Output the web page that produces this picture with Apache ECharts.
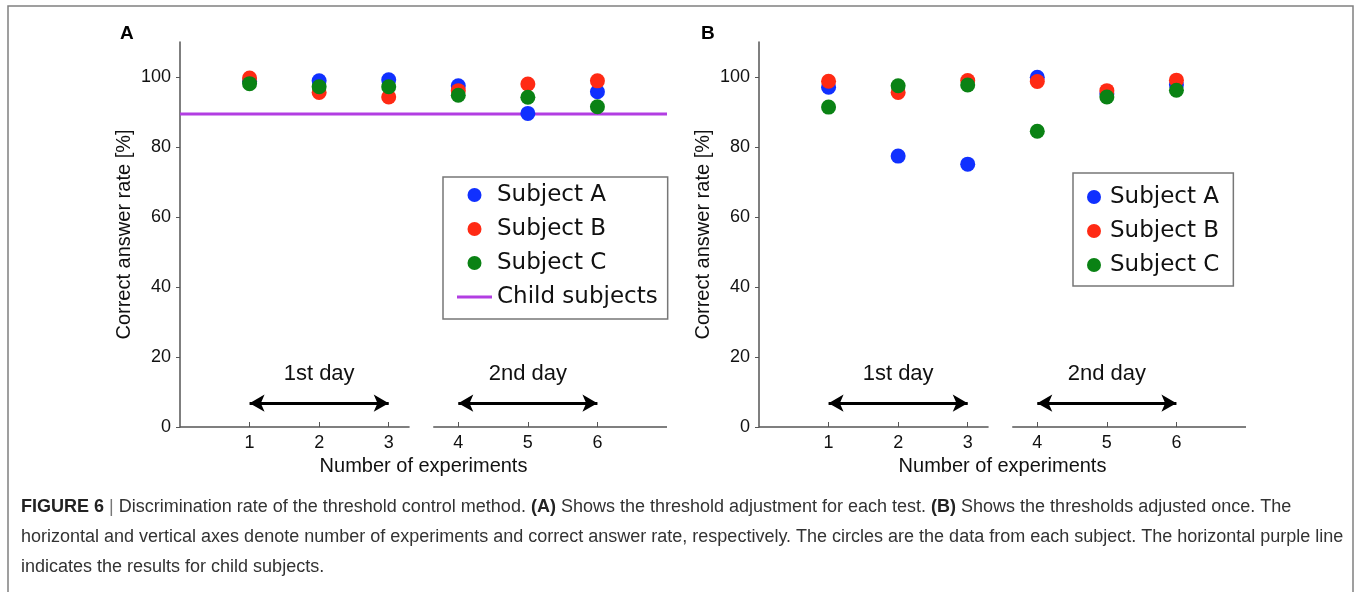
<!DOCTYPE html>
<html>
<head>
<meta charset="utf-8">
<script src="https://cdn.jsdelivr.net/npm/echarts@6/dist/echarts.min.js"></script>
<style>
  html, body { margin: 0; padding: 0; background: #fff; }
  #chart { width: 1357px; height: 592px; }
</style>
</head>
<body>
<div id="chart"></div>
<script>
// experiment number on x, correct answer rate [%] on y
var experiments = [1, 2, 3, 4, 5, 6];

// panel A: threshold adjusted for each test
var rateA_subjA = [98.8, 98.9, 99.2, 97.5, 89.6, 95.8];
var rateA_subjB = [99.7, 95.6, 94.3, 96.1, 98.0, 98.9];
var rateA_subjC = [98.1, 97.2, 97.2, 94.8, 94.2, 91.5];
var childRate = 89.4;

// panel B: thresholds adjusted once
var rateB_subjA = [97.1, 77.4, 75.1, 99.9, 95.2, 97.8];
var rateB_subjB = [98.8, 95.6, 99.0, 98.7, 96.1, 99.1];
var rateB_subjC = [91.4, 97.5, 97.7, 84.5, 94.3, 96.2];

var yTicks = [0, 20, 40, 60, 80, 100];
var xTicks = [1, 2, 3, 4, 5, 6];
var dayNames = ['1st day', '2nd day'];
var dayRanges = [[1, 3], [4, 6]];
var arrowLevel = 6.8;
var axisBreak = [3.3, 3.64];

var colA = '#1030ff', colB = '#ff2a14', colC = '#0a8214', colChild = '#b23ee2';
var axisCol = '#555';
var font = 'Liberation Sans, Arial, Helvetica, sans-serif';

function pairs(xs, ys) {
  var out = [];
  for (var i = 0; i < xs.length; i++) out.push([xs[i], ys[i]]);
  return out;
}

function xAxisFor(gi) {
  return {
    gridIndex: gi, type: 'value', min: 0, max: 7,
    name: 'Number of experiments', nameLocation: 'middle', nameGap: 27,
    nameTextStyle: { fontFamily: font, fontSize: 20, color: '#111' },
    axisLine: { show: false },
    axisTick: { show: true, inside: true, length: 5, customValues: xTicks, lineStyle: { color: axisCol } },
    axisLabel: { customValues: xTicks, fontFamily: font, fontSize: 18, color: '#111', margin: 7 },
    splitLine: { show: false }
  };
}

function yAxisFor(gi) {
  return {
    gridIndex: gi, type: 'value', min: 0, max: 110,
    name: 'Correct answer rate [%]', nameLocation: 'middle', nameGap: 46,
    nameTextStyle: { fontFamily: font, fontSize: 20, color: '#111' },
    axisLine: { show: true, lineStyle: { color: axisCol, width: 1.5 } },
    axisTick: { show: true, length: 4, customValues: yTicks, lineStyle: { color: axisCol } },
    axisLabel: { customValues: yTicks, fontFamily: font, fontSize: 18, color: '#111', margin: 9 },
    splitLine: { show: false }
  };
}

function scatter(name, gi, ys, color) {
  return {
    name: name, type: 'scatter', xAxisIndex: gi, yAxisIndex: gi,
    symbol: 'circle', symbolSize: 15,
    itemStyle: { color: color, opacity: 1 },
    data: pairs(experiments, ys)
  };
}

// broken x axis line and the two day arrows
function decor(gi) {
  var lines = [
    [{ coord: [0, 0], symbol: 'none' }, { coord: [axisBreak[0], 0], symbol: 'none' }],
    [{ coord: [axisBreak[1], 0], symbol: 'none' }, { coord: [7, 0], symbol: 'none' }]
  ];
  var arrows = [];
  for (var i = 0; i < dayRanges.length; i++) {
    arrows.push([
      { coord: [dayRanges[i][0], arrowLevel], name: dayNames[i] },
      { coord: [dayRanges[i][1], arrowLevel] }
    ]);
  }
  return {
    name: 'decor' + gi, type: 'line', xAxisIndex: gi, yAxisIndex: gi, data: [],
    silent: true,
    markLine: {
      silent: true, animation: false,
      symbol: ['arrow', 'arrow'], symbolSize: [13, 15],
      lineStyle: { color: '#000', width: 3, type: 'solid' },
      label: {
        show: true, position: 'insideMiddleTop', distance: 18,
        formatter: '{b}', fontFamily: font, fontSize: 22, color: '#111'
      },
      data: arrows.concat(lines.map(function (l) {
        return [
          Object.assign({}, l[0], { lineStyle: { color: axisCol, width: 1.5 }, label: { show: false } }),
          l[1]
        ];
      }))
    }
  };
}

var legendText = { fontFamily: 'DejaVu Sans, sans-serif', fontSize: 23, color: '#111', lineHeight: 24 };

var option = {
  animation: false,
  backgroundColor: '#fff',
  grid: [
    { left: 180, top: 42, width: 487, height: 385 },
    { left: 759, top: 42, width: 487, height: 385 }
  ],
  xAxis: [xAxisFor(0), xAxisFor(1)],
  yAxis: [yAxisFor(0), yAxisFor(1)],
  legend: [
    {
      orient: 'vertical', left: 443, top: 177,
      itemWidth: 35, itemHeight: 14, itemGap: 10,
      padding: [6, 10, 10, 14],
      borderColor: '#777', borderWidth: 1.5, backgroundColor: '#fff',
      selectedMode: false,
      textStyle: legendText,
      data: [
        { name: 'Subject A', icon: 'circle' },
        { name: 'Subject B', icon: 'circle' },
        { name: 'Subject C', icon: 'circle' },
        { name: 'Child subjects', icon: 'path://M0,0 L35,0 L35,3 L0,3 Z', itemStyle: { color: colChild } }
      ]
    },
    {
      orient: 'vertical', left: 1073, top: 173,
      itemWidth: 22, itemHeight: 14, itemGap: 10,
      padding: [12, 14, 9, 14],
      borderColor: '#777', borderWidth: 1.5, backgroundColor: '#fff',
      selectedMode: false,
      textStyle: legendText,
      data: [
        { name: 'Subject A', icon: 'circle' },
        { name: 'Subject B', icon: 'circle' },
        { name: 'Subject C', icon: 'circle' }
      ]
    }
  ],
  series: [
    decor(0),
    decor(1),
    {
      name: 'Child subjects', type: 'line', xAxisIndex: 0, yAxisIndex: 0,
      symbol: 'none', z: 1,
      lineStyle: { color: colChild, width: 3 },
      itemStyle: { color: colChild },
      data: [[0, childRate], [7, childRate]]
    },
    scatter('Subject A', 0, rateA_subjA, colA),
    scatter('Subject B', 0, rateA_subjB, colB),
    scatter('Subject C', 0, rateA_subjC, colC),
    scatter('Subject A', 1, rateB_subjA, colA),
    scatter('Subject B', 1, rateB_subjB, colB),
    scatter('Subject C', 1, rateB_subjC, colC)
  ],
  graphic: [
    {
      type: 'rect', silent: true, z: -10,
      shape: { x: 8, y: 6, width: 1345, height: 700 },
      style: { fill: 'none', stroke: '#808080', lineWidth: 1.5 }
    },
    { type: 'text', left: 120, top: 24, style: { text: 'A', font: 'bold 19px ' + font, fill: '#000' } },
    { type: 'text', left: 701, top: 24, style: { text: 'B', font: 'bold 19px ' + font, fill: '#000' } },
    {
      type: 'text', left: 21, top: 498,
      style: {
        text: '{b|FIGURE 6} {bar||} Discrimination rate of the threshold control method. {b|(A)} Shows the threshold adjustment for each test. {b|(B)} Shows the thresholds adjusted once. The',
        font: '18px ' + font, fill: '#333',
        rich: {
          b: { fontFamily: font, fontSize: 18, fontWeight: 'bold', fill: '#222' },
          bar: { fontFamily: font, fontSize: 18, fill: '#777' }
        }
      }
    },
    {
      type: 'text', left: 21, top: 528,
      style: {
        text: 'horizontal and vertical axes denote number of experiments and correct answer rate, respectively. The circles are the data from each subject. The horizontal purple line',
        font: '18px ' + font, fill: '#333'
      }
    },
    {
      type: 'text', left: 21, top: 558,
      style: { text: 'indicates the results for child subjects.', font: '18px ' + font, fill: '#333' }
    }
  ]
};

var chart = echarts.init(document.getElementById('chart'), null, { renderer: 'canvas' });
chart.setOption(option);
</script>
</body>
</html>
